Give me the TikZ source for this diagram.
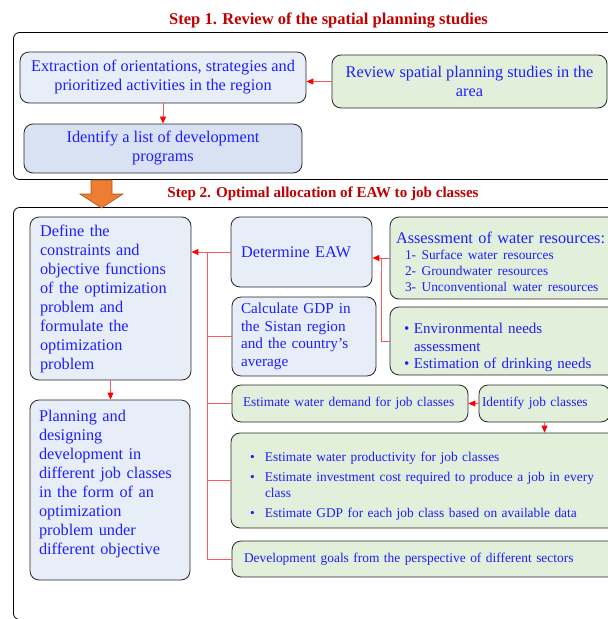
\documentclass[tikz,border=0pt]{standalone}
\usepackage{fontspec}
\setmainfont{Liberation Serif}
\usetikzlibrary{arrows.meta}

\definecolor{boxblue}{HTML}{E8EEF8}
\definecolor{boxbluedk}{HTML}{D9E2F3}
\definecolor{boxgreen}{HTML}{E2EFDA}
\definecolor{txtblue}{HTML}{1E1EFF}
\definecolor{ttlred}{HTML}{C00000}
\definecolor{linkred}{HTML}{FF5A5A}
\definecolor{arrorange}{HTML}{ED7D31}

\newcommand{\lrgtxt}{\fontsize{16.3}{19}\selectfont}
\newcommand{\midtxt}{\fontsize{15.2}{17.7}\selectfont}
\newcommand{\envtxt}{\fontsize{15}{17.5}\selectfont}
\newcommand{\smltxt}{\fontsize{13.4}{16}\selectfont}

\tikzset{
    stepbox/.style={rounded corners=9pt, draw=black!85, line width=0.8pt, text=txtblue, font=\lrgtxt, inner ysep=2pt},
    bluebox/.style={stepbox, fill=boxblue},
    greenbox/.style={stepbox, fill=boxgreen},
    sz/.style 2 args={minimum width=#1pt, minimum height=#2pt},
    frame/.style={rounded corners=6pt, draw=black, line width=0.8pt},
    link/.style={draw=linkred, line width=1pt},
    linkarr/.style={link, -{Triangle[length=7pt,width=6pt,color=red]}},
}

\newcommand{\bn}{\node[bluebox]}
\newcommand{\gn}{\node[greenbox]}
\newcommand{\ttl}{\node[text=ttlred]}
\newcommand{\bul}[1]{\makebox[#1][l]{\textbullet}}
\newcommand{\lift}[1]{\rule{0pt}{#1}}

\begin{document}
\begin{tikzpicture}[x=1pt, y=-1pt]
            \useasboundingbox (0,0) rectangle (608,619);

            \draw[frame] (13.5,32.5) rectangle (630,179.5);
            \draw[frame] (13.5,207.5) rectangle (630,619.5);

            \ttl[font=\bfseries\fontsize{16.5}{19}\selectfont] (ttlone) at (328.5,21) {Step 1. Review of the spatial planning studies};
            \ttl[font=\bfseries\fontsize{15.1}{18}\selectfont] (ttltwo) at (323,194) {Step 2. Optimal allocation of EAW to job classes};

            \draw[fill=arrorange, draw=arrorange!70!black, line width=0.6pt]
                (91,180) -- (112,180) -- (112,194) -- (123,194) -- (101.5,208) -- (80,194) -- (91,194) -- cycle;

            % step 1
            \bn[sz={286}{51}, align=center] (extr) at (163,77.5) {Extraction of orientations, strategies and\\prioritized activities in the region};
            \gn[sz={275}{53}, align=center] (review) at (469.5,81.5) {Review spatial planning studies in the\\area};
            \bn[fill=boxbluedk, sz={278}{49}, align=center] (ident) at (163,148.5) {Identify a list of development\\programs};

            % step 2
            \bn[sz={161}{163}, text width=141pt, inner xsep=10pt, align=left] (define) at (110.5,298.5) {Define the\\constraints and\\objective functions\\of the optimization\\problem and\\formulate the\\optimization\\problem};
            \bn[sz={160}{180}, text width=142pt, inner xsep=9pt, align=left] (plan) at (110,490) {Planning and\\designing\\development in\\different job classes\\in the form of an\\optimization\\problem under\\different objective\\[-4pt]\mbox{}};
            \bn[sz={141}{70}, text width=121pt, inner xsep=10pt, align=left] (eaw) at (301.5,252) {Determine EAW};
            \bn[sz={144}{79}, text width=126pt, inner xsep=9pt, align=left, font=\midtxt] (gdp) at (304,336.5) {Calculate GDP in\\the Sistan region\\and the country’s\\average};
            \gn[sz={232}{82}, text width=220pt, inner xsep=6pt, align=left] (assess) at (506,258) {\lift{24pt}Assessment of water resources:\par\vspace{4pt}\smltxt\begin{tabular}{@{\hspace{9pt}}l@{}}1- Surface water resources\\2- Groundwater resources\\3- Unconventional water resources\end{tabular}};
            \gn[sz={230}{68}, text width=202pt, inner xsep=14pt, align=left, font=\envtxt] (env) at (505,341) {\lift{23.5pt}\bul{10pt}Environmental needs\\\hspace*{10pt}assessment\\\bul{10pt}Estimation of drinking needs};
            \gn[sz={236}{37}, text width=214pt, inner xsep=11pt, align=left, font=\smltxt] (demand) at (350,403.5) {Estimate water demand for job classes};
            \gn[sz={131}{37}, text width=125pt, inner xsep=3pt, align=left, font=\smltxt] (jobs) at (544.5,403.5) {Identify job classes};
            \gn[sz={391}{95}, text width=353pt, inner xsep=19pt, align=left, font=\smltxt] (est) at (426.5,480.5) {\lift{20pt}\bul{15pt}Estimate water productivity for job classes\\[4pt]\bul{15pt}Estimate investment cost required to produce a job in every\\\hspace*{15pt}class\\[4pt]\bul{15pt}Estimate GDP for each job class based on available data};
            \gn[sz={390}{36}, text width=366pt, inner xsep=12pt, align=left, font=\smltxt] (goals) at (427,559) {Development goals from the perspective of different sectors};

            \coordinate (bus) at (207,252);
            \coordinate (join) at ([xshift=-8pt]assess.west);

            \draw[linkarr]
                (review.west) -- (review.west -| extr.east);
            \draw[linkarr]
                (extr.south) -- (ident.north);
            \draw[linkarr]
                (define.south) -- (define.south |- plan.north);
            \draw[linkarr]
                (eaw.west) -- (eaw.west -| define.east);
            \draw[linkarr]
                (assess.west) -- (assess.west -| eaw.east);
            \draw[linkarr]
                (jobs.west) -- (demand.east);
            \draw[linkarr]
                (jobs.south) -- (jobs.south |- est.north);

            \draw[link]
                (bus) |- (goals.west)
                (bus |- gdp.west) -- (gdp.west)
                (bus |- demand.west) -- (demand.west)
                (bus |- est.west) -- (est.west)
                (env.west) -| (join)
                ;
        \end{tikzpicture}
\end{document}
